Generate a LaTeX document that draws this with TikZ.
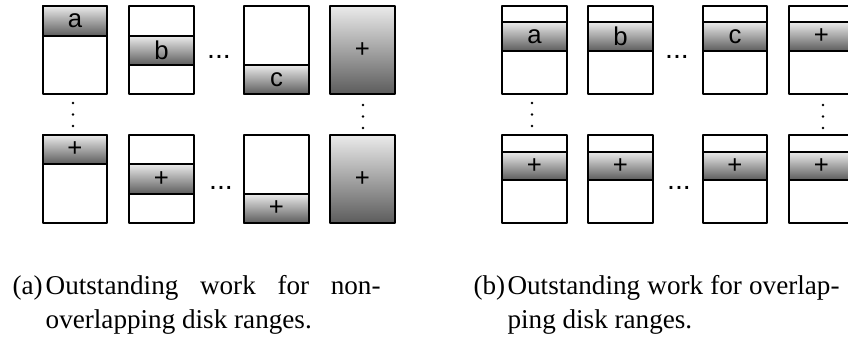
\documentclass[tikz,border=0pt]{standalone}
\usepackage{fontspec}
\setmainfont{Liberation Serif}
\setsansfont{Liberation Sans}

\begin{document}
\begin{tikzpicture}[x=0.35pt, y=-0.35pt, line join=round]
\tikzset{
  diskbox/.style={draw=black, line width=0.8pt},
  diskrange/.style={diskbox, top color=black!8, bottom color=black!64},
  rangelbl/.style={font=\sffamily\fontsize{9}{10}\selectfont, inner sep=0pt},
  hdotsnode/.style={font=\sffamily\fontsize{10}{11}\selectfont, inner sep=0pt},
  subcap/.style={font=\fontsize{9.5}{11.9}\selectfont, inner sep=0pt, align=justify, anchor=base west}
}
\clip (0,0) rectangle (848,338);

% Left panel, upper row
% one range per disk, no overlap
  \draw[diskrange] (43,6) rectangle (107,36);
  \draw[diskbox] (43,6) rectangle (107,94);
  \node[rangelbl] (la1) at (75,21) {a};

  \draw[diskrange] (129,36) rectangle (194,65);
  \draw[diskbox] (129,6) rectangle (194,94);
  \node[rangelbl] (lb1) at (161.5,50.5) {b};

  \node[hdotsnode] (ldots1) at (219,57) {...};

  \draw[diskrange] (244,65) rectangle (309,94);
  \draw[diskbox] (244,6) rectangle (309,94);
  \node[rangelbl] (lc1) at (276.5,79.5) {c};

  \draw[diskrange] (330,6) rectangle (395,94);
  \node[rangelbl] (lsum1) at (362.5,50) {+};

% Vertical dots between the rows
  \foreach \dy in {0,11.5,23} {
    \fill (73,103+\dy) circle (1.3);
    \fill (363,105+\dy) circle (1.3);
    \fill (532,103+\dy) circle (1.3);
    \fill (823,105+\dy) circle (1.3);
  }

% Left panel, lower row
  \draw[diskrange] (43,135) rectangle (107,164);
  \draw[diskbox] (43,135) rectangle (107,223);
  \node[rangelbl] (la2) at (75,149.5) {+};

  \draw[diskrange] (129,164) rectangle (194,194);
  \draw[diskbox] (129,135) rectangle (194,223);
  \node[rangelbl] (lb2) at (161.5,179) {+};

  \node[hdotsnode] (ldots2) at (221,188) {...};

  \draw[diskrange] (244,194) rectangle (309,223);
  \draw[diskbox] (244,135) rectangle (309,223);
  \node[rangelbl] (lc2) at (276.5,208.5) {+};

  \draw[diskrange] (330,135) rectangle (395,223);
  \node[rangelbl] (lsum2) at (362.5,179) {+};

% Right panel, upper row
% ranges overlap on every disk
  \draw[diskrange] (502,22) rectangle (567,51);
  \draw[diskbox] (502,6) rectangle (567,94);
  \node[rangelbl] (ra1) at (534.5,36.5) {a};

  \draw[diskrange] (588,22) rectangle (653,51);
  \draw[diskbox] (588,6) rectangle (653,94);
  \node[rangelbl] (rb1) at (620.5,36.5) {b};

  \node[hdotsnode] (rdots1) at (677,57) {...};

  \draw[diskrange] (703,22) rectangle (767,51);
  \draw[diskbox] (703,6) rectangle (767,94);
  \node[rangelbl] (rc1) at (735,36.5) {c};

  \draw[diskrange] (789,22) rectangle (854,51);
  \draw[diskbox] (789,6) rectangle (854,94);
  \node[rangelbl] (rsum1) at (821.5,36.5) {+};

% Right panel, lower row
  \draw[diskrange] (502,152) rectangle (567,180);
  \draw[diskbox] (502,135) rectangle (567,223);
  \node[rangelbl] (ra2) at (534.5,166) {+};

  \draw[diskrange] (588,152) rectangle (653,180);
  \draw[diskbox] (588,135) rectangle (653,223);
  \node[rangelbl] (rb2) at (620.5,166) {+};

  \node[hdotsnode] (rdots2) at (679,188) {...};

  \draw[diskrange] (703,152) rectangle (767,180);
  \draw[diskbox] (703,135) rectangle (767,223);
  \node[rangelbl] (rc2) at (735,166) {+};

  \draw[diskrange] (789,152) rectangle (854,180);
  \draw[diskbox] (789,135) rectangle (854,223);
  \node[rangelbl] (rsum2) at (821.5,166) {+};

% Sub captions
  \node[subcap, text width=128.8pt] (capa) at (12,294)
    {\noindent\hangindent=11.6pt\hangafter=1\makebox[11.6pt][l]{(a)}Outstanding work for non-\linebreak overlapping disk ranges.\par};
  \node[subcap, text width=128.1pt] (capb) at (473,294)
    {\noindent\hangindent=11.9pt\hangafter=1\makebox[11.9pt][l]{(b)}Outstanding work for overlap-\linebreak ping disk ranges.\par};
\end{tikzpicture}
\end{document}
